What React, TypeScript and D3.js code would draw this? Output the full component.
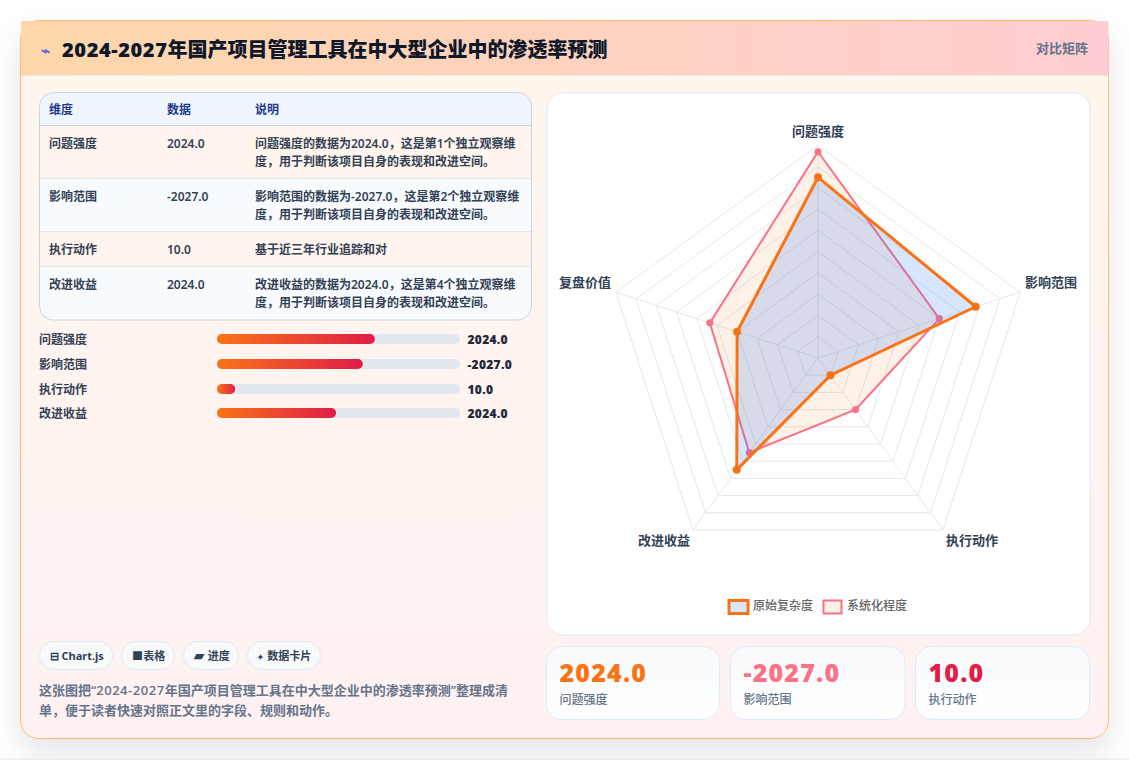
import React from "react";
import * as d3 from "d3";

const titleLatin = "2024-2027";
const titleRest = "年国产项目管理工具在中大型企业中的渗透率预测";
const headerTag = "对比矩阵";
const tableHead = ["维度", "数据", "说明"];
const dims = ["问题强度", "影响范围", "执行动作", "改进收益"];
const dimValues = ["2024.0", "-2027.0", "10.0", "2024.0"];
const notes = [
  ["问题强度的数据为2024.0，这是第1个独立观察维", "度，用于判断该项目自身的表现和改进空间。"],
  ["影响范围的数据为-2027.0，这是第2个独立观察维", "度，用于判断该项目自身的表现和改进空间。"],
  ["基于近三年行业追踪和对"],
  ["改进收益的数据为2024.0，这是第4个独立观察维", "度，用于判断该项目自身的表现和改进空间。"],
];
const barPercents = [65, 60, 7.5, 49];
const chipIcons = ["⊟", "■", "▰", "✦"];
const chipLabels = ["Chart.js", "表格", "进度", "数据卡片"];
const descStart = "这张图把“";
const descLatin = "2024-2027";
const descEnd = "年国产项目管理工具在中大型企业中的渗透率预测”整理成清";
const descLine2 = "单，便于读者快速对照正文里的字段、规则和动作。";
const radarAxes = ["问题强度", "影响范围", "执行动作", "改进收益", "复盘价值"];
const seriesA = [85, 78, 10, 65, 40];
const seriesB = [97, 60, 30, 55, 53.5];
const legendNames = ["原始复杂度", "系统化程度"];
const statValues = ["2024.0", "-2027.0", "10.0"];
const statLabels = ["问题强度", "影响范围", "执行动作"];
const statColors = ["#f97316", "#fb7185", "#e11d48"];
const rings = d3.range(1, 11).map((d) => d * 10);

const FONT = `"Noto Sans", "Noto Sans CJK SC", sans-serif`;
const HEAVY = `"Open Sans", "Noto Sans CJK SC", sans-serif`;
const cx = 818;
const cy = 358;
const R = 212.6;
const rScale = d3.scaleLinear().domain([0, 100]).range([0, R]);
const angle = d3.scaleLinear().domain([0, radarAxes.length]).range([0, 2 * Math.PI]);
const radial = d3
  .lineRadial<number>()
  .angle((_, i) => angle(i))
  .radius((d) => rScale(d))
  .curve(d3.curveLinearClosed);
const pt = (i: number, v: number) => [
  cx + rScale(v) * Math.sin(angle(i)),
  cy - rScale(v) * Math.cos(angle(i)),
];

const rows = [
  { y0: 125.5, y1: 178.5, bg: "#fff5ee" },
  { y0: 178.5, y1: 231.5, bg: "#f8fbfd" },
  { y0: 231.5, y1: 266.5, bg: "#fff5ee" },
  { y0: 266.5, y1: 320, bg: "#f8fbfd" },
];
const barY = [334, 359, 384, 408];
const barX = d3.scaleLinear().domain([0, 100]).range([0, 243]);
const chipBox = [
  [39.5, 73.5],
  [121.5, 53],
  [183.5, 55],
  [247.5, 73],
];
const chipIconPos = [[50, 11], [132, 11], [193.5, 13], [257, 8]];
const chipTextX = [61.5, 143.3, 207.7, 267.3];
const statBox = [
  [546.5, 173],
  [730.5, 174.5],
  [915.5, 174],
];
const axisLabelPos = [
  [818, 136],
  [1051, 287],
  [972, 545],
  [664, 545],
  [585, 287],
] as const;

export default function App() {
  return (
    <svg
      width={1129}
      height={760}
      viewBox="0 0 1129 760"
      style={{ position: "absolute", left: 0, top: 0, display: "block", fontFamily: FONT }}
    >
      <defs>
        <linearGradient id="cardBg" x1="0" y1="0" x2="0" y2="1">
          <stop offset="0" stopColor="#fff7ed" />
          <stop offset="1" stopColor="#fff1f2" />
        </linearGradient>
        <linearGradient id="headBg" x1="0" y1="0" x2="1" y2="0">
          <stop offset="0" stopColor="#fed7aa" />
          <stop offset="1" stopColor="#fecdd3" />
        </linearGradient>
        <linearGradient id="statBg" x1="0" y1="0" x2="0" y2="1">
          <stop offset="0" stopColor="#f8fafc" />
          <stop offset="1" stopColor="#ffffff" />
        </linearGradient>
        <filter id="shadow" x="-10%" y="-10%" width="120%" height="125%">
          <feDropShadow dx="0" dy="14" stdDeviation="14" floodColor="#0f172a" floodOpacity="0.1" />
        </filter>
        <clipPath id="tableClip">
          <rect x={39.5} y={92.5} width={492} height={227.5} rx={14} />
        </clipPath>
        {barPercents.map((p, i) => (
          <linearGradient key={i} id={`bar${i}`} x1="0" y1="0" x2="1" y2="0">
            <stop offset="0" stopColor="#f97316" />
            <stop offset="1" stopColor="#e11d48" />
          </linearGradient>
        ))}
      </defs>

      <rect width={1129} height={760} fill="#ffffff" />
      <rect y={758} width={1129} height={2} fill="#f1f5f9" />

      <rect x={20.5} y={20.5} width={1088} height={718} rx={18} fill="url(#cardBg)" stroke="#fdba74" filter="url(#shadow)" />
      <rect x={21} y={21} width={1087.5} height={54.5} fill="url(#headBg)" />
      <line x1={21} x2={1108} y1={75.5} y2={75.5} stroke="#f1e4dc" />

      <text x={41} y={56} fontSize={15} fill="#4f6bd8" fontWeight={700}>⌁</text>
      <text x={62} y={56.5} fontSize={20} fontWeight={800} fill="#0f172a" fontFamily={HEAVY}>
        <tspan letterSpacing={0.6}>{titleLatin}</tspan>
        <tspan>{titleRest}</tspan>
      </text>
      <text x={1088} y={53} fontSize={13} fontWeight={600} fill="#64748b" textAnchor="end">{headerTag}</text>

      <g clipPath="url(#tableClip)">
        <rect x={39.5} y={92.5} width={492} height={33} fill="#eff6ff" />
        {rows.map((r, i) => (
          <rect key={i} x={39.5} y={r.y0} width={492} height={r.y1 - r.y0} fill={r.bg} />
        ))}
        {rows.slice(0, 3).map((r, i) => (
          <line key={i} x1={39.5} x2={531.5} y1={r.y1} y2={r.y1} stroke="#e2e8f0" />
        ))}
        <line x1={39.5} x2={531.5} y1={125.5} y2={125.5} stroke="#cbd5e1" />
      </g>
      <rect x={39.5} y={92.5} width={492} height={227.5} rx={14} fill="none" stroke="#cbd5e1" />
      {tableHead.map((h, i) => (
        <text key={h} x={[49, 167, 255][i]} y={114} fontSize={12} fontWeight={700} fill="#1e3a8a">{h}</text>
      ))}
      {dims.map((d, i) => (
        <g key={d} fontSize={12} fontWeight={600} fill="#334155">
          <text x={49} y={rows[i].y0 + 22}>{d}</text>
          <text x={167} y={rows[i].y0 + 22}>{dimValues[i]}</text>
          {notes[i].map((l, j) => (
            <text key={j} x={255} y={rows[i].y0 + 22 + j * 18}>{l}</text>
          ))}
        </g>
      ))}

      {dims.map((d, i) => (
        <g key={d}>
          <text x={39} y={barY[i] + 9.5} fontSize={12} fontWeight={600} fill="#334155">{d}</text>
          <rect x={217} y={barY[i]} width={243} height={10} rx={5} fill="#e2e8f0" />
          <rect x={217} y={barY[i]} width={barX(barPercents[i])} height={10} rx={5} fill={`url(#bar${i})`} />
          <text x={467.5} y={barY[i] + 9.5} fontSize={12} fontWeight={800} fill="#1e293b" fontFamily={HEAVY} letterSpacing={0.3}>{dimValues[i]}</text>
        </g>
      ))}

      {chipLabels.map((c, i) => (
        <g key={c}>
          <rect x={chipBox[i][0]} y={641.5} width={chipBox[i][1]} height={28} rx={14} fill="#f8fafc" stroke="#e2e8f0" />
          <text x={chipIconPos[i][0]} y={660} fontSize={chipIconPos[i][1]} fontWeight={700} fill="#334155">{chipIcons[i]}</text>
          <text x={chipTextX[i]} y={660} fontSize={11} fontWeight={700} fill="#334155">{c}</text>
        </g>
      ))}
      <text x={39} y={695} fontSize={13} fontWeight={600} fill="#64748b" fontFamily={HEAVY}>
        <tspan>{descStart}</tspan>
        <tspan letterSpacing={0.55}>{descLatin}</tspan>
        <tspan>{descEnd}</tspan>
      </text>
      <text x={39} y={715} fontSize={13} fontWeight={600} fill="#64748b">{descLine2}</text>

      <rect x={547} y={92.5} width={543} height={542.5} rx={16} fill="#ffffff" stroke="#e2e8f0" />
      <g fill="none" stroke="#e2e8f0" strokeWidth={1}>
        {rings.map((v) => (
          <path key={v} transform={`translate(${cx},${cy})`} d={radial(radarAxes.map(() => v)) ?? ""} />
        ))}
        {radarAxes.map((a, i) => {
          const [x, y] = pt(i, 100);
          return <line key={a} x1={cx} y1={cy} x2={x} y2={y} />;
        })}
      </g>
      <path transform={`translate(${cx},${cy})`} d={radial(seriesB) ?? ""} fill="rgba(249,115,22,0.1)" stroke="#fb7185" strokeWidth={2} />
      {seriesB.map((v, i) => {
        const [x, y] = pt(i, v);
        return <circle key={i} cx={x} cy={y} r={3.6} fill="#fb7185" />;
      })}
      <path transform={`translate(${cx},${cy})`} d={radial(seriesA) ?? ""} fill="rgba(59,130,246,0.2)" stroke="#f97316" strokeWidth={3} />
      {seriesA.map((v, i) => {
        const [x, y] = pt(i, v);
        return <circle key={i} cx={x} cy={y} r={4} fill="#f97316" />;
      })}
      {radarAxes.map((a, i) => (
        <text key={a} x={axisLabelPos[i][0]} y={axisLabelPos[i][1]} textAnchor="middle" fontSize={13} fontWeight={600} fill="#334155">{a}</text>
      ))}

      <rect x={729} y={600.5} width={19} height={13} fill="rgba(59,130,246,0.2)" stroke="#f97316" strokeWidth={3} />
      <text x={753} y={610} fontSize={12} fontWeight={500} fill="#666666">{legendNames[0]}</text>
      <rect x={823.5} y={600.5} width={18} height={13} fill="rgba(249,115,22,0.1)" stroke="#fb7185" strokeWidth={2} />
      <text x={847} y={610} fontSize={12} fontWeight={500} fill="#666666">{legendNames[1]}</text>

      {statValues.map((v, i) => (
        <g key={i}>
          <rect x={statBox[i][0]} y={646.5} width={statBox[i][1]} height={73} rx={16} fill="url(#statBg)" stroke="#dbeafe" />
          <text x={statBox[i][0] + 13} y={682} fontSize={25} fontWeight={800} fill={statColors[i]} fontFamily={HEAVY} letterSpacing={1.2}>{v}</text>
          <text x={statBox[i][0] + 13} y={704} fontSize={12} fontWeight={500} fill="#64748b">{statLabels[i]}</text>
        </g>
      ))}
    </svg>
  );
}
